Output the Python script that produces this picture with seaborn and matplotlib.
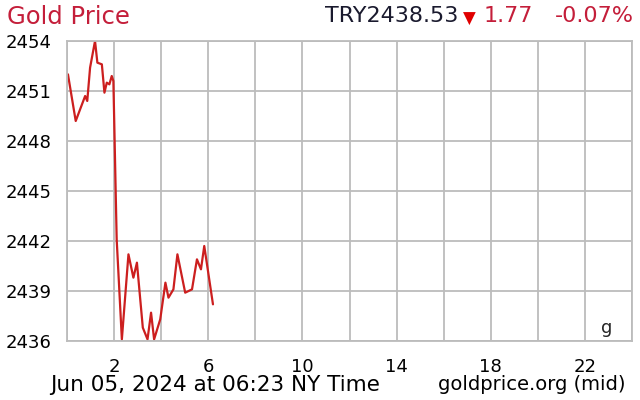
import matplotlib
matplotlib.use("Agg")
import matplotlib.pyplot as plt
import seaborn as sns
import pandas as pd

# hours since midnight (NY time) and TRY price per gram
hours = [0.04, 0.37, 0.77, 0.86, 0.98, 1.19, 1.29, 1.48, 1.59, 1.69, 1.80, 1.90,
         1.97, 2.11, 2.33, 2.61, 2.82, 2.97, 3.22, 3.42, 3.57, 3.70, 3.96, 4.18,
         4.31, 4.52, 4.69, 5.02, 5.31, 5.52, 5.69, 5.83, 6.20]
prices = [2452.0, 2449.2, 2450.7, 2450.4, 2452.4, 2454.0, 2452.7, 2452.6, 2450.9,
          2451.5, 2451.4, 2451.9, 2451.6, 2442.1, 2436.1, 2441.2, 2439.8, 2440.7,
          2436.8, 2436.1, 2437.7, 2436.1, 2437.3, 2439.5, 2438.6, 2439.1, 2441.2,
          2438.9, 2439.1, 2440.9, 2440.3, 2441.7, 2438.2]

y_ticks = [2436, 2439, 2442, 2445, 2448, 2451, 2454]
x_ticks = list(range(0, 25, 2))
x_labels = ["" if h % 4 == 0 else str(h) for h in x_ticks]

df = pd.DataFrame({"hour": hours, "price": prices})

sns.set_style("white")
plt.rcParams['font.family'] = ['DejaVu Sans']

fig = plt.figure(figsize=(6.4, 4.0), dpi=100)
ax = fig.add_axes([0.1047, 0.1475, 0.8828, 0.75])

sns.lineplot(data=df, x="hour", y="price", ax=ax, color="#cc1f1f", linewidth=1.6)

grid_c = "#bcbcbc"
ax.set_xlim(0, 24)
ax.set_ylim(2436, 2454)
ax.set_xticks(x_ticks)
ax.set_xticklabels(x_labels)
ax.set_yticks(y_ticks)
ax.grid(True, color=grid_c, linewidth=1.3)
ax.tick_params(axis="both", direction="out", length=6, width=1.3, color=grid_c,
               labelsize=13, labelcolor="black")
ax.tick_params(axis="x", pad=6)
ax.tick_params(axis="y", pad=5)
for s in ax.spines.values():
    s.set_color(grid_c)
    s.set_linewidth(1.3)
ax.set_xlabel("")
ax.set_ylabel("")

ax.text(0.956, 0.028, "g", transform=ax.transAxes, fontsize=13, ha="center", va="baseline")

# header
fig.text(7 / 640, 1 - 17 / 400, "Gold Price", color="#c41e3a", fontsize=17.5, ha="left", va="center")
fig.text(458 / 640, 1 - 16 / 400, "TRY2438.53", color="#1a1a2e", fontsize=16, ha="right", va="center")
fig.text(469 / 640, 1 - 19 / 400, "\u25bc", color="#e00000", fontsize=12, ha="center", va="center")
fig.text(484 / 640, 1 - 16 / 400, "1.77", color="#c41e3a", fontsize=16, ha="left", va="center")
fig.text(634 / 640, 1 - 16 / 400, "-0.07%", color="#c41e3a", fontsize=16, ha="right", va="center")

# footer
fig.text(50 / 640, 1 - 385 / 400, "Jun 05, 2024 at 06:23 NY Time", color="black", fontsize=15.5,
         ha="left", va="center")
fig.text(626 / 640, 1 - 385 / 400, "goldprice.org (mid)", color="black", fontsize=14,
         ha="right", va="center")

fig.savefig("out.png", dpi=100)
